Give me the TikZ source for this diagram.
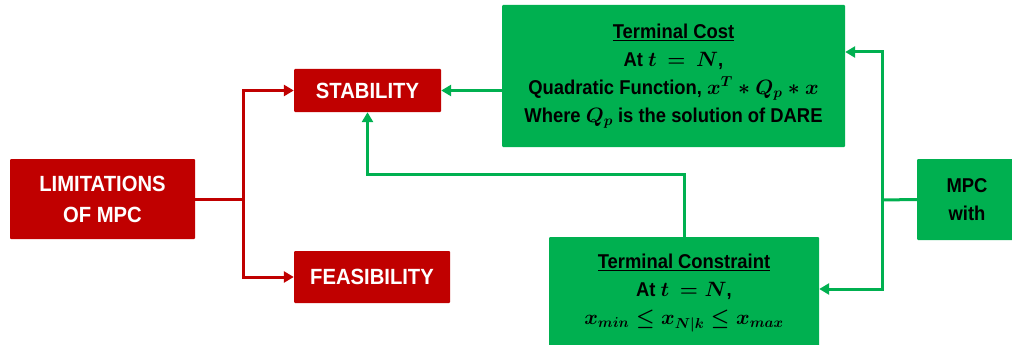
\documentclass[tikz,border=0pt]{standalone}
\usepackage{fontspec}
\setmainfont{Liberation Sans}[FakeStretch=0.92]
\usetikzlibrary{arrows.meta,positioning,calc}
\definecolor{mpcred}{RGB}{192,0,0}
\definecolor{mpcgreen}{RGB}{0,176,80}
\tikzset{
  redbox/.style={rectangle, fill=mpcred, text=white, font=\bfseries\fontsize{22}{31}\selectfont, align=center, inner sep=0pt, rounded corners=1pt},
  greenbox/.style={rectangle, fill=mpcgreen, text=black, font=\bfseries\boldmath\fontsize{20}{28}\selectfont, align=center, inner sep=0pt, rounded corners=1pt},
  redline/.style={draw=mpcred, line width=3pt},
  greenline/.style={draw=mpcgreen, line width=3pt},
  tip/.style={-{Triangle[length=10pt,width=11pt]}},
}
\begin{document}
\begin{tikzpicture}[x=1pt,y=-1pt]
\useasboundingbox (0,0) rectangle (1012,345);
% nodes
\node[redbox, minimum width=185pt, minimum height=80pt] (lim) at (102.5,199) {LIMITATIONS\\OF MPC};
\node[redbox, minimum width=147pt, minimum height=43pt] (stab) at (367.5,90.5) {STABILITY};
\node[redbox, minimum width=156pt, minimum height=52pt] (feas) at (372,277) {FEASIBILITY};
\node[greenbox, minimum width=343pt, minimum height=142pt] (cost) at (673.5,76) {\underline{Terminal Cost}\\At $t\,=\,N$,\\Quadratic Function, $x^{T}\ast Q_p\ast x$\\Where $Q_p$ is the solution of DARE};
\node[greenbox, minimum width=270pt, minimum height=112pt] (cons) at (684,293) {\underline{Terminal Constraint}\\At $t\,=N$,\\$x_{min}\le x_{N|k}\le x_{max}$};
\node[greenbox, minimum width=100pt, minimum height=81pt] (mpc) at (967,199.5) {MPC\\with};
% red connectors
\coordinate (rb) at (243,199);
\draw[redline] (lim.east) -- (rb);
\draw[redline, tip] (rb) |- (stab.west);
\draw[redline, tip] (rb) |- (feas.west);
% green connectors
\draw[greenline, tip] (cost.west |- stab.east) -- (stab.east);
\draw[greenline, tip] (cons.north) -- ++(0,-62) -| (stab.south);
\coordinate (gb) at (882,200);
\draw[greenline] (mpc.west) -- (gb);
\draw[greenline, tip] (gb) |- ([yshift=24pt]cost.east);
\draw[greenline, tip] (gb) |- ([yshift=4pt]cons.east);
\end{tikzpicture}
\end{document}
